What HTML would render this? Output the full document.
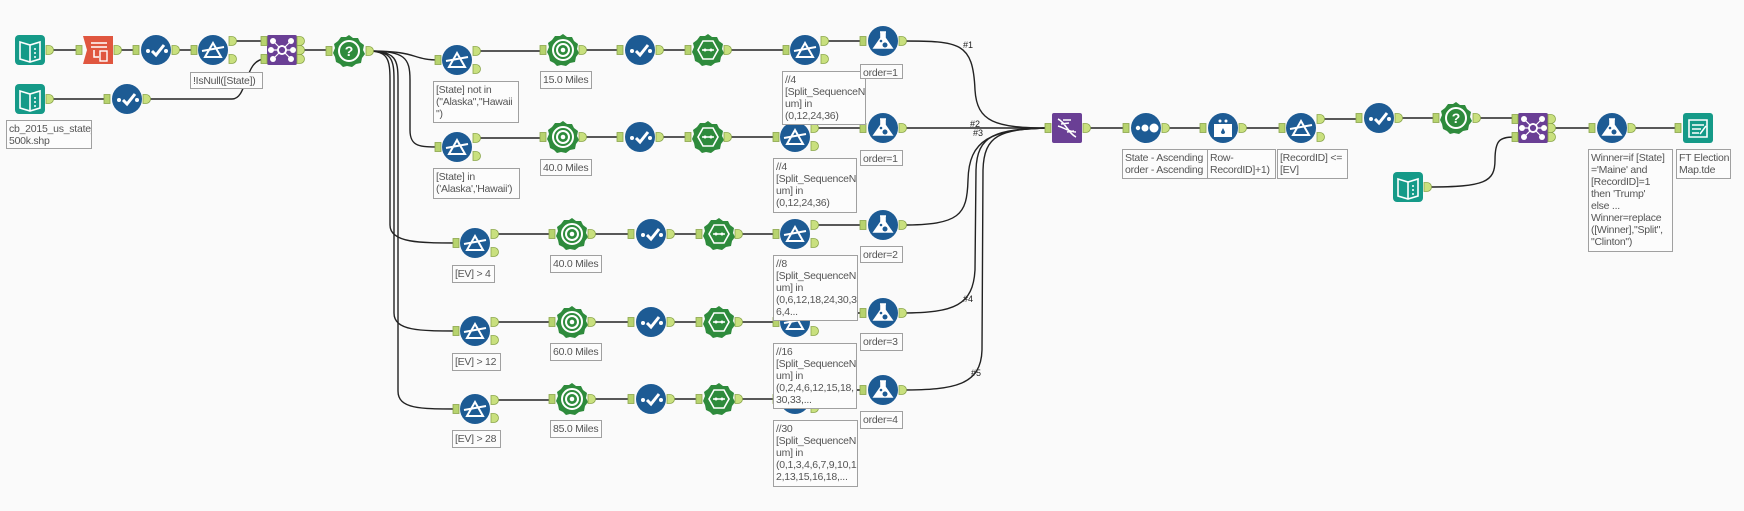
<!DOCTYPE html>
<html><head><meta charset="utf-8"><style>
body{margin:0;background:#fafafa;}
#c{position:relative;width:1744px;height:511px;overflow:hidden;background:#fafafa;font-family:"Liberation Sans",sans-serif;}
svg{position:absolute;left:0;top:0;}
.l{position:absolute;border:1px solid #a0a0a0;background:#fcfcfc;color:#555;font-size:10.5px;letter-spacing:-0.25px;line-height:12px;padding:2px 2px;box-sizing:border-box;white-space:nowrap;overflow:hidden;}
</style></head><body><div id="c">
<svg width="1744" height="511" viewBox="0 0 1744 511">
<defs>
<g id="tabI"><rect x="-3" y="-4.5" width="6" height="9" fill="#b7d36e" stroke="#8aa64a" stroke-width="0.8"/></g>
<g id="tabO"><path d="M-3,-4.5 h3 a4.5,4.5 0 0 1 0,9 h-3z" fill="#c9e07e" stroke="#8aa64a" stroke-width="0.8"/></g>
<g id="filt"><circle r="15" fill="#1d5b94"/><path d="M-8,7 L0,-7 L8,7 Z M-11,1 L11,-3" stroke="#fff" stroke-width="2" fill="none"/><use href="#tabI" x="-19"/><use href="#tabO" x="19" y="-9"/><use href="#tabO" x="19" y="9"/></g>
<g id="sel"><circle r="15" fill="#1d5b94"/><circle cx="-8" cy="1" r="2" fill="#fff"/><path d="M-4,1 L0,5 L8,-5" stroke="#fff" stroke-width="3" fill="none"/><circle cx="10" cy="1" r="2" fill="#fff"/><use href="#tabI" x="-20"/><use href="#tabO" x="19"/></g>
<g id="flask"><circle r="15" fill="#1d5b94"/><path d="M-3,-9 h6 M-2,-9 v6 l-7,10 h18 l-7,-10 v-6" stroke="#fff" stroke-width="1.6" fill="#fff"/><circle cx="2" cy="4" r="2.5" fill="#1d5b94"/><circle cx="-2" cy="0" r="1.3" fill="#1d5b94"/><use href="#tabI" x="-20"/><use href="#tabO" x="19"/></g>
<g id="star"><path d="M0,-16 L4,-13 9,-13 11,-9 15,-6 14,-1 16,3 13,7 12,12 7,13 3,16 -2,15 -6,16 -9,13 -13,11 -14,6 -16,2 -14,-3 -15,-7 -11,-10 -8,-14 -3,-14 Z" fill="#2e8b3c"/></g>
<g id="dist"><use href="#star"/><circle r="10" fill="none" stroke="#fff" stroke-width="2"/><circle r="6" fill="none" stroke="#fff" stroke-width="2"/><circle r="2.3" fill="#fff"/><use href="#tabI" x="-20"/><use href="#tabO" x="19"/></g>
<g id="hex"><use href="#star"/><path d="M-10,0 L-5,-9 5,-9 10,0 5,9 -5,9 Z" fill="none" stroke="#fff" stroke-width="1.6"/><path d="M-6,0 h12" stroke="#fff" stroke-width="1.5"/><circle cx="-3" r="1.5" fill="#fff"/><circle cx="3" r="1.5" fill="#fff"/><use href="#tabI" x="-20"/><use href="#tabO" x="19"/></g>
<g id="qq"><use href="#star"/><circle r="10" fill="none" stroke="#fff" stroke-width="2"/><text x="0" y="5" text-anchor="middle" font-size="14" font-weight="bold" fill="#fff" font-family="Liberation Sans">?</text><use href="#tabI" x="-20"/><use href="#tabO" x="20"/></g>
<g id="book"><rect x="-15" y="-15" width="30" height="30" rx="4" fill="#159a88"/><path d="M-10,-8 L0,-5 L10,-8 L10,9 L0,12 L-10,9 Z M0,-5 V12" stroke="#fff" stroke-width="1.6" fill="none"/><circle cx="5" cy="-1" r="1" fill="#fff"/><circle cx="5" cy="3" r="1" fill="#fff"/><circle cx="5" cy="7" r="1" fill="#fff"/><use href="#tabO" x="19"/></g>
<g id="join"><rect x="-15" y="-15" width="30" height="30" rx="2" fill="#6a3f95"/><circle r="4" fill="none" stroke="#fff" stroke-width="1.8"/><g fill="#fff"><circle cx="-9" cy="-9" r="3"/><circle cx="9" cy="-9" r="3"/><circle cx="-9" cy="9" r="3"/><circle cx="9" cy="9" r="3"/><circle cx="-11" cy="0" r="3"/><circle cx="11" cy="0" r="3"/></g><path d="M-9,-9 L9,9 M9,-9 L-9,9 M-11,0 H11" stroke="#fff" stroke-width="1.2"/><circle r="4" fill="#6a3f95" stroke="#fff" stroke-width="1.8"/></g>
</defs>
<g stroke="#222" stroke-width="1.4" fill="none">
<path d="M49,50 H79 M118,50 H137 M175,50 H194 M231,41 H265 M300,50 H330 M49,99 H108"/>
<path d="M146,99 H232 C248,99 244,59 265,59"/>
<path d="M369,51 C420,51 410,60 440,60"/>
<path d="M369,51 C405,51 410,58 410,80 V130 C410,147 420,147 440,147"/>
<path d="M369,51 C388,51 390,60 390,80 V225 C390,243 420,243 458,243"/>
<path d="M369,51 C392,51 394,60 394,80 V313 C394,331 420,331 458,331"/>
<path d="M369,51 C396,51 398,60 398,80 V391 C398,409 420,409 458,409"/>
<path d="M475,51 H543 M582,50 H620 M659,50 H688 M727,50 H786 M823,41 H864"/>
<path d="M475,138 H543 M582,137 H620 M659,137 H688 M727,137 H776 M813,128 H864"/>
<path d="M493,234 H552 M591,234 H631 M670,234 H699 M738,234 H776 M813,225 H864"/>
<path d="M493,322 H552 M591,322 H631 M670,322 H699 M738,322 H776 M813,313 H864"/>
<path d="M493,400 H552 M591,399 H631 M670,399 H699 M738,399 H776 M813,390 H864"/>
<path d="M902,41 C960,41 973,42 975,90 C977,122 995,128 1049,128"/>
<path d="M902,128 H1049"/>
<path d="M902,225 C960,225 967,215 968,180 C969,140 990,129 1049,128"/>
<path d="M902,313 C955,313 973,305 975,270 L976,170 C977,135 995,129 1049,128"/>
<path d="M902,390 C955,390 981,385 982,350 L983,170 C984,135 1000,129 1049,128"/>
<path d="M1086,128 H1126 M1165,128 H1203 M1242,128 H1282 M1319,119 H1359 M1398,118 H1436 M1476,118 H1514 M1552,128 H1592 M1632,128 H1678"/>
<path d="M1428,187 C1485,187 1495,182 1495,160 C1495,140 1500,137 1514,137"/>
</g>
<g font-family="Liberation Sans" font-size="9" fill="#222"><text x="963" y="48">#1</text><text x="970" y="127">#2</text><text x="973" y="136">#3</text><text x="963" y="302">#4</text><text x="971" y="376">#5</text></g>
<use href="#book" x="30" y="50"/>
<g transform="translate(98,50)"><path d="M-15,-14 H15 V14 H-15 L-11,0 Z" fill="#e0563f"/><path d="M-7,-7 H9 M-7,-3 H9" stroke="#fff" stroke-width="1.5"/><rect x="2" y="1" width="7" height="10" fill="none" stroke="#fff" stroke-width="1.4"/><path d="M-4,0 V7 H1" stroke="#fff" stroke-width="1.5" fill="none"/><use href="#tabI" x="-19"/><use href="#tabO" x="19"/></g>
<use href="#sel" x="156" y="50"/>
<use href="#filt" x="213" y="50"/>
<g transform="translate(282,50)"><use href="#join"/><use href="#tabI" x="-18" y="-9"/><use href="#tabI" x="-18" y="9"/><use href="#tabO" x="18" y="-9"/><use href="#tabO" x="18"/><use href="#tabO" x="18" y="9"/></g>
<use href="#qq" x="349" y="51"/>
<use href="#book" x="30" y="99"/>
<use href="#sel" x="127" y="99"/>
<use href="#filt" x="457" y="60"/><use href="#dist" x="563" y="50"/><use href="#sel" x="640" y="50"/><use href="#hex" x="708" y="50"/><use href="#filt" x="805" y="50"/><use href="#flask" x="883" y="41"/>
<use href="#filt" x="457" y="147"/><use href="#dist" x="563" y="137"/><use href="#sel" x="640" y="137"/><use href="#hex" x="708" y="137"/><use href="#filt" x="795" y="137"/><use href="#flask" x="883" y="128"/>
<use href="#filt" x="475" y="243"/><use href="#dist" x="572" y="234"/><use href="#sel" x="651" y="234"/><use href="#hex" x="719" y="234"/><use href="#filt" x="795" y="234"/><use href="#flask" x="883" y="225"/>
<use href="#filt" x="475" y="331"/><use href="#dist" x="572" y="322"/><use href="#sel" x="651" y="322"/><use href="#hex" x="719" y="322"/><use href="#filt" x="795" y="322"/><use href="#flask" x="883" y="313"/>
<use href="#filt" x="475" y="409"/><use href="#dist" x="572" y="399"/><use href="#sel" x="651" y="399"/><use href="#hex" x="719" y="399"/><use href="#filt" x="795" y="399"/><use href="#flask" x="883" y="390"/>
<g transform="translate(1067,128)"><rect x="-15" y="-15" width="30" height="30" rx="2" fill="#6a3f95"/><path d="M-9,-9 C-2,-6 2,6 9,9 M-9,-2 C-2,0 2,4 9,4 M-4,-8 L4,-8 M-6,-4 L2,-5 M0,4 L7,3" stroke="#fff" stroke-width="1.5" fill="none"/><use href="#tabI" x="-19"/><use href="#tabO" x="19"/></g>
<g transform="translate(1146,128)"><circle r="15" fill="#1d5b94"/><circle cx="-8" r="2.2" fill="#fff"/><circle cx="-1" r="3.5" fill="#fff"/><circle cx="8" r="4.5" fill="#fff"/><use href="#tabI" x="-20"/><use href="#tabO" x="19"/></g>
<g transform="translate(1223,128)"><circle r="15" fill="#1d5b94"/><path d="M-8,-4 V8 H8 V-4" stroke="#fff" stroke-width="2" fill="#fff"/><circle cx="-3" cy="-7" r="1.5" fill="#fff"/><circle cx="3" cy="-7" r="1.5" fill="#fff"/><path d="M0,0 l-2,4 a2,2 0 0 0 4,0 z" fill="#1d5b94"/><use href="#tabI" x="-20"/><use href="#tabO" x="19"/></g>
<use href="#filt" x="1301" y="128"/>
<use href="#sel" x="1379" y="118"/>
<use href="#qq" x="1456" y="118"/>
<g transform="translate(1533,128)"><use href="#join"/><use href="#tabI" x="-18" y="-9"/><use href="#tabI" x="-18" y="9"/><use href="#tabO" x="18" y="-9"/><use href="#tabO" x="18"/><use href="#tabO" x="18" y="9"/></g>
<use href="#book" x="1408" y="187"/>
<use href="#flask" x="1612" y="128"/>
<g transform="translate(1698,128)"><rect x="-15" y="-15" width="30" height="30" rx="3" fill="#159a88"/><path d="M-9,-8 H9 V9 H-9 Z" fill="none" stroke="#fff" stroke-width="1.6"/><path d="M-6,-3 H6 M-6,1 H3 M-6,5 H1 M2,6 L8,-2" stroke="#fff" stroke-width="1.5"/><use href="#tabI" x="-20"/></g>
</svg>
<div class="l" style="left:190px;top:72px;width:73px;height:17px">!IsNull([State])</div>
<div class="l" style="left:6px;top:120px;width:86px;height:29px">cb_2015_us_state_<br>500k.shp</div>
<div class="l" style="left:433px;top:81px;width:86px;height:42px">[State] not in<br>("Alaska","Hawaii<br>")</div>
<div class="l" style="left:540px;top:71px;width:52px;height:18px">15.0 Miles</div>
<div class="l" style="left:782px;top:71px;width:84px;height:54px">//4<br>[Split_SequenceN<br>um] in<br>(0,12,24,36)</div>
<div class="l" style="left:860px;top:64px;width:43px;height:15px">order=1</div>
<div class="l" style="left:433px;top:168px;width:87px;height:31px">[State] in<br>('Alaska','Hawaii')</div>
<div class="l" style="left:540px;top:159px;width:52px;height:17px">40.0 Miles</div>
<div class="l" style="left:773px;top:158px;width:84px;height:55px">//4<br>[Split_SequenceN<br>um] in<br>(0,12,24,36)</div>
<div class="l" style="left:860px;top:150px;width:43px;height:16px">order=1</div>
<div class="l" style="left:452px;top:265px;width:43px;height:18px">[EV] &gt; 4</div>
<div class="l" style="left:550px;top:255px;width:52px;height:18px">40.0 Miles</div>
<div class="l" style="left:773px;top:255px;width:85px;height:66px">//8<br>[Split_SequenceN<br>um] in<br>(0,6,12,18,24,30,3<br>6,4...</div>
<div class="l" style="left:860px;top:246px;width:43px;height:17px">order=2</div>
<div class="l" style="left:452px;top:353px;width:49px;height:18px">[EV] &gt; 12</div>
<div class="l" style="left:550px;top:343px;width:52px;height:18px">60.0 Miles</div>
<div class="l" style="left:773px;top:343px;width:84px;height:66px">//16<br>[Split_SequenceN<br>um] in<br>(0,2,4,6,12,15,18,<br>30,33,...</div>
<div class="l" style="left:860px;top:333px;width:43px;height:18px">order=3</div>
<div class="l" style="left:452px;top:430px;width:49px;height:18px">[EV] &gt; 28</div>
<div class="l" style="left:550px;top:420px;width:52px;height:18px">85.0 Miles</div>
<div class="l" style="left:773px;top:420px;width:85px;height:67px">//30<br>[Split_SequenceN<br>um] in<br>(0,1,3,4,6,7,9,10,1<br>2,13,15,16,18,...</div>
<div class="l" style="left:860px;top:411px;width:43px;height:18px">order=4</div>
<div class="l" style="left:1122px;top:149px;width:87px;height:30px">State - Ascending<br>order - Ascending</div>
<div class="l" style="left:1207px;top:149px;width:69px;height:30px">Row-<br>RecordID]+1)</div>
<div class="l" style="left:1277px;top:149px;width:71px;height:30px">[RecordID] &lt;=<br>[EV]</div>
<div class="l" style="left:1588px;top:149px;width:85px;height:103px">Winner=if [State]<br>='Maine' and<br>[RecordID]=1<br>then 'Trump'<br>else ...<br>Winner=replace<br>([Winner],"Split",<br>"Clinton")</div>
<div class="l" style="left:1676px;top:149px;width:55px;height:30px">FT Election<br>Map.tde</div>
</div></body></html>
